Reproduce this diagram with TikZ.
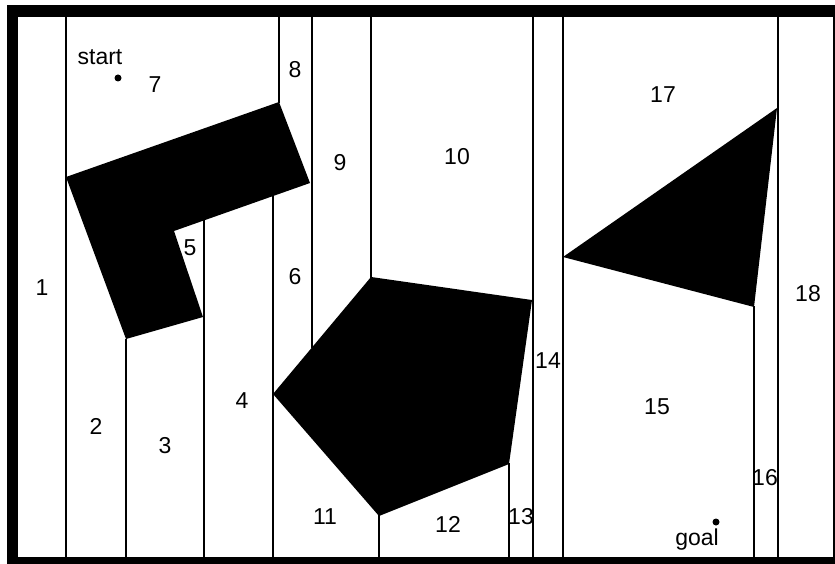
\documentclass[tikz,border=0pt]{standalone}
\usepackage{fontspec}
\setmainfont{Liberation Sans}
\begin{document}
\begin{tikzpicture}[x=1pt,y=-1pt,
  cell/.style={draw=black,line width=1.6pt},
  obst/.style={fill=black,draw=none},
  lbl/.style={font=\fontsize{23}{25}\selectfont, inner sep=0pt, text=black},
  pt/.style={circle,fill=black,inner sep=0pt,minimum size=7pt}
]
\useasboundingbox (0,0) rectangle (835,564);
\clip (0,0) rectangle (835,564);
% outer frame
\fill[black] (7,5) rectangle (850,575);
\fill[white] (18,17) rectangle (833,557);
% vertical decomposition lines
\draw[cell] (66,17) -- (66,557);
\draw[cell] (126,339) -- (126,557);
\draw[cell] (204,220) -- (204,557);
\draw[cell] (273,196) -- (273,557);
\draw[cell] (279,17) -- (279,103);
\draw[cell] (312,17) -- (312,348);
\draw[cell] (371,17) -- (371,278);
\draw[cell] (379,515) -- (379,557);
\draw[cell] (509,463) -- (509,557);
\draw[cell] (533,17) -- (533,557);
\draw[cell] (563,17) -- (563,557);
\draw[cell] (754,306) -- (754,557);
\draw[cell] (778,17) -- (778,557);
% obstacles
\fill[obst] (66,177) -- (279,102) -- (310,183) -- (174,231) -- (203,317) -- (126,339) -- cycle;
\fill[obst] (371,277) -- (532,300) -- (509,464) -- (379,516) -- (273,394) -- cycle;
\fill[obst] (563,257) -- (777,108) -- (754,307) -- cycle;
% start and goal
\node[pt] (s) at (118,78) {};
\node[lbl] (start) at (100,57) {start};
\node[pt] (g) at (716,522) {};
\node[lbl] (goal) at (697,540) {goal};
% cell labels
\node[lbl] (c1) at (42,288) {1};
\node[lbl] (c2) at (96,426) {2};
\node[lbl] (c3) at (165,446) {3};
\node[lbl] (c4) at (242,401) {4};
\node[lbl] (c5) at (190,248) {5};
\node[lbl] (c6) at (295,277) {6};
\node[lbl] (c7) at (155,85) {7};
\node[lbl] (c8) at (295,70) {8};
\node[lbl] (c9) at (340,163) {9};
\node[lbl] (c10) at (457,157) {10};
\node[lbl] (c11) at (325,517) {11};
\node[lbl] (c12) at (448,524) {12};
\node[lbl] (c13) at (521,517) {13};
\node[lbl] (c14) at (548,361) {14};
\node[lbl] (c15) at (657,407) {15};
\node[lbl] (c16) at (765,478) {16};
\node[lbl] (c17) at (663,95) {17};
\node[lbl] (c18) at (808,294) {18};
\end{tikzpicture}
\end{document}
